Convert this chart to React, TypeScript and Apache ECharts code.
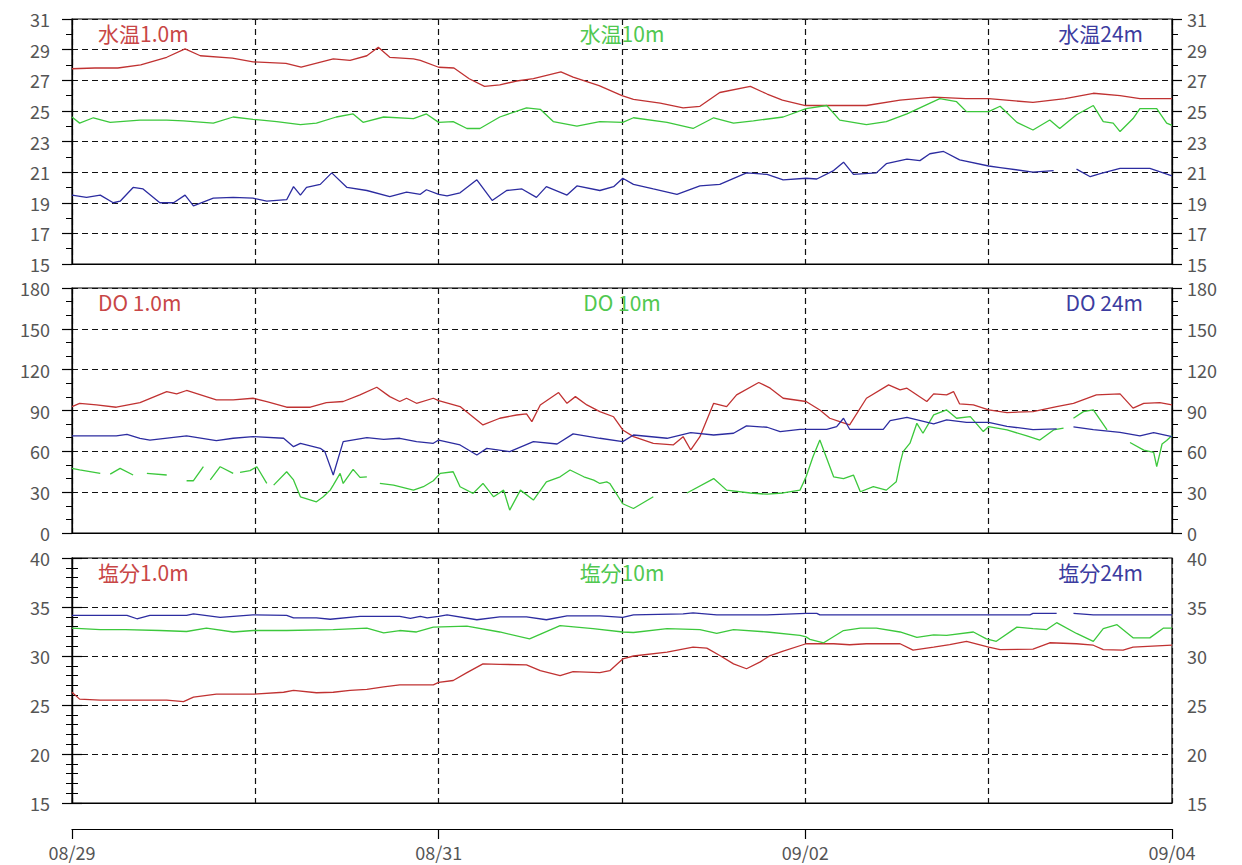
import React, { useEffect, useRef } from "react";
import * as echarts from "echarts";

// x values are hours since 08/29 00:00
const dayLabels = ["08/29", "08/30", "08/31", "09/01", "09/02", "09/03", "09/04"];

// 水温 (°C)
const temp1m: any[] = [[0,27.75],[3,27.8],[6,27.8],[9,28.0],[12.4,28.5],[14.8,29.05],[16.8,28.6],[21,28.45],[23.7,28.2],[28,28.1],[30,27.85],[34.2,28.4],[36.4,28.3],[38.6,28.6],[40.1,29.15],[41.6,28.5],[44.7,28.4],[45.6,28.3],[48,27.85],[50,27.8],[52,27.1],[54,26.6],[56,26.7],[58.2,26.95],[60.4,27.1],[64,27.55],[65.6,27.2],[69,26.65],[72,26.0],[73.5,25.75],[77,25.5],[80,25.2],[82.2,25.3],[84.8,26.2],[88.8,26.6],[91,26.1],[93,25.7],[96,25.35],[100,25.35],[104,25.35],[108.4,25.7],[112.8,25.9],[117,25.8],[120,25.8],[125.8,25.55],[130,25.8],[133.7,26.15],[137.2,26.0],[139.8,25.8],[144,25.8]];
const temp10m: any[] = [[0,24.6],[1,24.2],[2.8,24.55],[5,24.25],[8.9,24.4],[12.4,24.4],[14.6,24.35],[18.5,24.2],[21.1,24.6],[23.7,24.45],[26.8,24.3],[29.9,24.1],[32,24.2],[34.6,24.6],[36.8,24.8],[38.1,24.25],[40.8,24.6],[44.7,24.5],[46.4,24.8],[48,24.25],[49.9,24.3],[51.7,23.85],[53.4,23.85],[56,24.6],[59.5,25.2],[61.3,25.1],[63,24.3],[66.1,24.0],[69.1,24.3],[72.1,24.25],[73.5,24.55],[77.9,24.25],[81.3,23.85],[84,24.55],[86.6,24.2],[89.2,24.35],[93.1,24.6],[96.1,25.15],[98.8,25.35],[100.5,24.4],[104,24.1],[106.6,24.3],[109.3,24.8],[113.6,25.8],[115.8,25.6],[117.1,24.95],[120,24.95],[121.5,25.3],[123.7,24.25],[125.8,23.75],[128,24.4],[129.3,23.85],[131.5,24.75],[133.7,25.35],[135,24.3],[136.3,24.2],[137.2,23.65],[138.9,24.5],[139.8,25.15],[142,25.15],[143.3,24.2],[144,24.05]];
const temp24m: any[] = [[0,19.5],[1.9,19.35],[3.7,19.5],[5.4,19.0],[6.3,19.1],[8,20.0],[9.3,19.9],[11.5,19.0],[13.3,19.0],[14.8,19.5],[15.9,18.8],[18.5,19.3],[21.1,19.35],[23.7,19.3],[25.5,19.1],[28.1,19.2],[29,20.05],[29.9,19.5],[30.7,20.0],[32.5,20.2],[34,20.95],[36,20.0],[38.6,19.8],[41.6,19.4],[43.8,19.7],[45.6,19.55],[46.4,19.85],[48,19.55],[49.1,19.45],[50.8,19.65],[53,20.5],[55,19.15],[56.9,19.8],[58.9,19.9],[60.8,19.35],[62.1,20.05],[64.8,19.5],[66.1,20.1],[69.1,19.8],[70.9,20.05],[72.1,20.6],[73.5,20.2],[76.1,19.9],[79.2,19.55],[82.2,20.1],[84.8,20.2],[88.3,20.95],[91,20.85],[93.1,20.5],[96.1,20.6],[97.5,20.55],[99.7,21.1],[101,21.65],[102.3,20.85],[105.3,20.95],[106.6,21.55],[109.3,21.85],[111,21.75],[112.3,22.2],[114.1,22.35],[116.2,21.8],[120,21.4],[121.5,21.3],[125.8,21.0],[128.5,21.1],[130,"-"],[131.5,21.2],[133.3,20.7],[134.6,20.9],[137.2,21.25],[141.1,21.25],[144,20.75]];

// DO
const do1m: any[] = [[0,92.9],[1,95.3],[3.2,94.1],[5.8,92.4],[8.9,95.8],[12.4,103.9],[13.7,102.2],[15,104.7],[18.9,97.8],[21.1,97.8],[23.7,99],[25.5,96.6],[28.1,92.4],[31.2,92.4],[33.3,95.8],[35.5,96.6],[37.7,101.5],[39.9,107.1],[41.6,100.2],[42.9,96.6],[43.8,99],[45.1,95.3],[47.3,99],[48,97.3],[50.8,92.9],[53.8,79.4],[56,84.3],[58.2,86.7],[59.5,87.5],[60.2,81.8],[61.3,94.1],[63.7,103.2],[64.8,95.3],[65.9,100.2],[67.4,94.1],[69.1,89.2],[70.9,85.4],[72.1,75.7],[73.5,70.8],[76.1,65.9],[78.7,64.7],[80,70.8],[81,61],[82.2,70.8],[84,95.3],[85.7,92.9],[87,101.5],[89.9,110.6],[91.4,106.4],[93.1,99],[96.1,96.6],[97.9,90.4],[99.2,84.3],[100.5,81.8],[101.8,79.4],[104,99],[106.9,108.8],[108.4,105.2],[109.3,106.4],[111.9,96.6],[112.8,102.2],[114.5,101.5],[115.4,103.9],[116.2,94.8],[118,94.1],[120,90.4],[122.4,88.5],[125.8,89.2],[128.9,92.9],[131.1,95.3],[134.1,101.5],[137.2,102.2],[138.9,91.7],[140.3,95.3],[142.4,95.8],[144,94.1]];
const do10m: any[] = [[0,47.5],[1,46.3],[3.7,43.8],[4.3,"-"],[5,43.3],[6.3,47.5],[8,42.6],[8.9,"-"],[9.8,43.8],[12.4,42.6],[13.6,"-"],[15,38.4],[15.9,38.4],[17.2,48.7],[17.6,"-"],[18.1,39],[19.4,48.7],[21.1,43.8],[21.5,"-"],[22,44.5],[23.3,45.8],[24.2,48.7],[25.5,36.4],[25.9,"-"],[26.4,35.2],[28.1,45],[29,39],[29.9,26.6],[32,22.9],[32.9,26.6],[33.8,31.5],[34.2,35.2],[35.1,43.8],[35.5,36.4],[36.8,46.7],[37.7,40.9],[38.6,41.3],[39.4,"-"],[40.3,36.4],[42.1,35.2],[44.7,31.5],[46,34],[47.3,38.4],[48.2,43.8],[49.9,45],[50.8,34],[52.5,29.1],[53.8,36.4],[55.2,26.6],[56.5,31.5],[57.3,16.8],[58.7,31.5],[60.4,24.2],[62.1,37.6],[63.9,41.3],[65.2,46.3],[67,41.3],[68.3,38.8],[69.1,36.4],[70,37.6],[70.4,36.4],[72.1,21.5],[73.5,18],[76.1,26.6],[78,"-"],[80.5,29.4],[84,40],[85.7,31.5],[88.8,29.4],[91,28.5],[93.1,29.4],[95.3,31.5],[96.1,41.3],[97,56],[97.9,68.3],[99.7,41.3],[101,40],[102.3,42.6],[103.2,30.3],[104.9,34],[106.6,31.5],[107.9,37.6],[108.4,51.2],[108.8,59.8],[109.7,66],[110.6,80.6],[111.4,73.3],[112.8,86.8],[114.5,90.4],[115.8,84.3],[117.6,85.5],[119.3,74.5],[120,78.2],[122.4,75.7],[125,71.3],[126.7,68.3],[128.5,75.7],[129.8,77],[130.4,"-"],[131.1,84.3],[132.4,89.2],[133.7,90.4],[134.6,83.1],[135.5,75.7],[137,"-"],[138.5,66.5],[140.3,60.9],[141.6,59.2],[142,48.7],[142.7,65.4],[143.3,67.9],[144,71.6]];
const do24m: any[] = [[0,71.3],[5.8,71.3],[7.2,72.5],[8.9,69.6],[10.2,68.3],[15,71.3],[18.9,67.9],[21.1,69.6],[23.7,70.8],[27.7,69.6],[29,63.4],[29.9,65.9],[32.5,62.2],[33.1,59.8],[34.2,42.6],[35.5,67.1],[38.6,70],[40.8,68.8],[42.9,69.6],[45.1,67.1],[47.3,65.9],[48,68.3],[50.8,64.7],[53,57.3],[54.3,62.2],[57.3,59.8],[60.4,67.1],[63.5,65.4],[65.6,72.8],[69.1,69.6],[72.1,67.1],[73.5,72],[77.9,69.6],[81,73.7],[84,72],[86.6,73.3],[88.3,78.7],[91,77.7],[92.7,74.5],[95.3,76.2],[98.8,76.2],[100.1,78.2],[101,84.3],[101.8,76.2],[106.2,76.2],[107.1,82.6],[109.3,85],[112.8,80.1],[114.5,83.1],[117.1,81.3],[120,81.3],[122.4,78.4],[125.8,75.9],[128.9,76.5],[130,"-"],[131.1,77.9],[133.7,76],[137.2,74],[139.8,71.3],[141.6,73.7],[144,70.8]];

// 塩分
const sal1m: any[] = [[0,26.3],[1,25.6],[3.7,25.5],[8,25.5],[12.4,25.5],[14.6,25.35],[15.9,25.8],[18.9,26.1],[23.7,26.1],[27.7,26.3],[29,26.5],[32,26.25],[34.2,26.3],[36.4,26.5],[38.6,26.6],[40.8,26.85],[42.9,27.05],[45.6,27.05],[47.3,27.05],[48,27.3],[49.9,27.5],[51.7,28.3],[53.8,29.2],[56,29.15],[59.5,29.1],[61.3,28.5],[63.9,28.0],[65.6,28.4],[69.1,28.3],[70.4,28.5],[72.1,29.7],[73.5,30.0],[77.9,30.4],[81.3,30.9],[83.1,30.8],[84.8,30.05],[86.6,29.2],[88.3,28.7],[90.1,29.4],[91.4,30.05],[93.1,30.5],[96.1,31.25],[99.7,31.25],[101.8,31.15],[104,31.25],[108.4,31.25],[110.1,30.6],[112.8,30.9],[114.9,31.15],[117.1,31.5],[120,30.9],[121.5,30.65],[125.8,30.7],[128,31.35],[131.5,31.25],[133.7,31.1],[135,30.65],[137.6,30.6],[138.9,30.9],[144,31.1]];
const sal10m: any[] = [[0,32.85],[3.7,32.7],[7,32.7],[11.5,32.6],[15,32.5],[17.6,32.85],[21.1,32.45],[23.7,32.6],[28.1,32.6],[34.2,32.7],[38.6,32.85],[40.8,32.35],[42.9,32.6],[45.1,32.45],[47.3,32.95],[51.7,33.05],[56,32.45],[59.9,31.75],[63.9,33.1],[68.2,32.8],[72.1,32.45],[73.5,32.4],[77.9,32.8],[82.2,32.7],[84.4,32.3],[86.6,32.7],[91,32.45],[95.3,32.1],[96.1,31.95],[96.6,31.7],[98.4,31.35],[101,32.6],[103.2,32.85],[105.3,32.85],[108.4,32.45],[110.6,31.9],[112.8,32.15],[114.5,32.1],[118,32.45],[119.7,31.75],[121,31.5],[123.7,32.95],[125.8,32.8],[127.6,32.7],[128.9,33.4],[131.5,32.3],[133.7,31.5],[135,32.8],[136.8,33.2],[138.9,31.85],[141.1,31.85],[142.9,32.85],[144,32.85]];
const sal24m: any[] = [[0,34.15],[7.2,34.15],[8.5,33.8],[10.2,34.15],[15,34.15],[15.9,34.3],[19.4,33.95],[23.7,34.2],[28.1,34.15],[29,33.9],[32,33.9],[33.8,33.75],[37.7,34.05],[42.9,34.05],[44.3,33.85],[45.6,34.05],[46.5,33.9],[48,34.05],[49.1,34.2],[53,33.7],[56,34.0],[59.5,34.0],[62.1,33.7],[64.8,34.1],[69.1,34.1],[72.1,33.95],[73.5,34.2],[80,34.3],[81.3,34.4],[84.4,34.2],[91,34.2],[96.1,34.35],[97.5,34.35],[97.9,34.2],[125.4,34.2],[125.8,34.35],[128.9,34.35],[130,"-"],[131.1,34.35],[133.7,34.2],[144,34.2]];

const panelTitles = [
  ["水温1.0m", "水温10m", "水温24m"],
  ["DO 1.0m", "DO 10m", "DO 24m"],
  ["塩分1.0m", "塩分10m", "塩分24m"],
];
const yRanges = [
  { min: 15, max: 31, interval: 2, minor: 2 },
  { min: 0, max: 180, interval: 30, minor: 3 },
  { min: 15, max: 40, interval: 5, minor: 5 },
];
const panelData = [
  [temp1m, temp10m, temp24m],
  [do1m, do10m, do24m],
  [sal1m, sal10m, sal24m],
];

const lineColors = ["#c03232", "#3cc83c", "#2c2ca0"];
const titleColors = ["#c84646", "#50c850", "#3c3ca0"];
const FONT = "'Noto Sans CJK JP', sans-serif";

export default function App() {
  const ref = useRef<HTMLDivElement>(null);
  useEffect(() => {
    if (!ref.current) return;
    const chart = echarts.init(ref.current, undefined, { renderer: "svg" });
    const tops = [19, 288, 558];
    const H = 245;
    const L = 72, R = 70;
    const grid = tops.map((t) => ({
      left: L, right: R, top: t, height: H,
      show: true, borderColor: "#000", borderWidth: 1.2, backgroundColor: "#fff",
    }));
    const dash = { color: "#111", type: [6, 4] as any, width: 1.2 };
    const xAxis: any[] = tops.map((_, i) => ({
      type: "value", gridIndex: i, min: 0, max: 144, interval: 24,
      axisLine: { show: true, lineStyle: { color: "#000" } },
      axisTick: { show: false }, axisLabel: { show: false },
      splitLine: { show: true, lineStyle: dash },
    }));
    xAxis.push({
      type: "value", gridIndex: 2, min: 0, max: 144, interval: 48, position: "bottom", offset: 26,
      axisLine: { show: true, lineStyle: { color: "#000", width: 1.2 } },
      axisTick: { show: true, length: 10, inside: false, lineStyle: { color: "#000", width: 1.2 } },
      axisLabel: {
        show: true, margin: 14, fontSize: 18, color: "#555", fontFamily: FONT,
        formatter: (v: number) => dayLabels[Math.round(v / 24)],
      },
      splitLine: { show: false },
    });
    const yAxis: any[] = [];
    yRanges.forEach((r, i) => {
      ["left", "right"].forEach((pos) => {
        yAxis.push({
          type: "value", gridIndex: i, position: pos, min: r.min, max: r.max, interval: r.interval,
          axisLine: { show: true, lineStyle: { color: "#000", width: 1.2 } },
          axisTick: { show: true, length: 10, lineStyle: { color: "#000", width: 1.2 } },
          minorTick: { show: true, splitNumber: r.minor, length: 6, lineStyle: { color: "#000", width: 1 } },
          axisLabel: {
            show: true, margin: pos === "left" ? 22 : 15, fontSize: 18, lineHeight: 18,
            color: "#555", fontFamily: FONT,
          },
          splitLine: { show: pos === "left", lineStyle: dash },
        });
      });
    });
    const series: any[] = [];
    panelData.forEach((group, i) => {
      group.forEach((d, j) => {
        series.push({
          type: "line", name: panelTitles[i][j], xAxisIndex: i, yAxisIndex: i * 2,
          data: d, showSymbol: false, connectNulls: false, z: 3,
          lineStyle: { color: lineColors[j], width: 1.3 },
          itemStyle: { color: lineColors[j] },
        });
      });
    });
    const graphic: any[] = [];
    tops.forEach((t, i) => {
      const xs = [98, 622, 1143];
      const aligns = ["left", "center", "right"];
      panelTitles[i].forEach((txt, j) => {
        graphic.push({
          type: "text", x: xs[j], y: t + 14, z: 10,
          style: {
            text: txt, fill: titleColors[j], font: `21px ${FONT}`,
            textAlign: aligns[j], textVerticalAlign: "middle",
          },
        });
      });
    });
    chart.setOption({
      animation: false,
      backgroundColor: "#fff",
      grid, xAxis, yAxis, series, graphic,
    });
    return () => chart.dispose();
  }, []);
  return (
    <div
      ref={ref}
      style={{ position: "absolute", left: 0, top: 0, width: 1242, height: 865, background: "#fff" }}
    />
  );
}
